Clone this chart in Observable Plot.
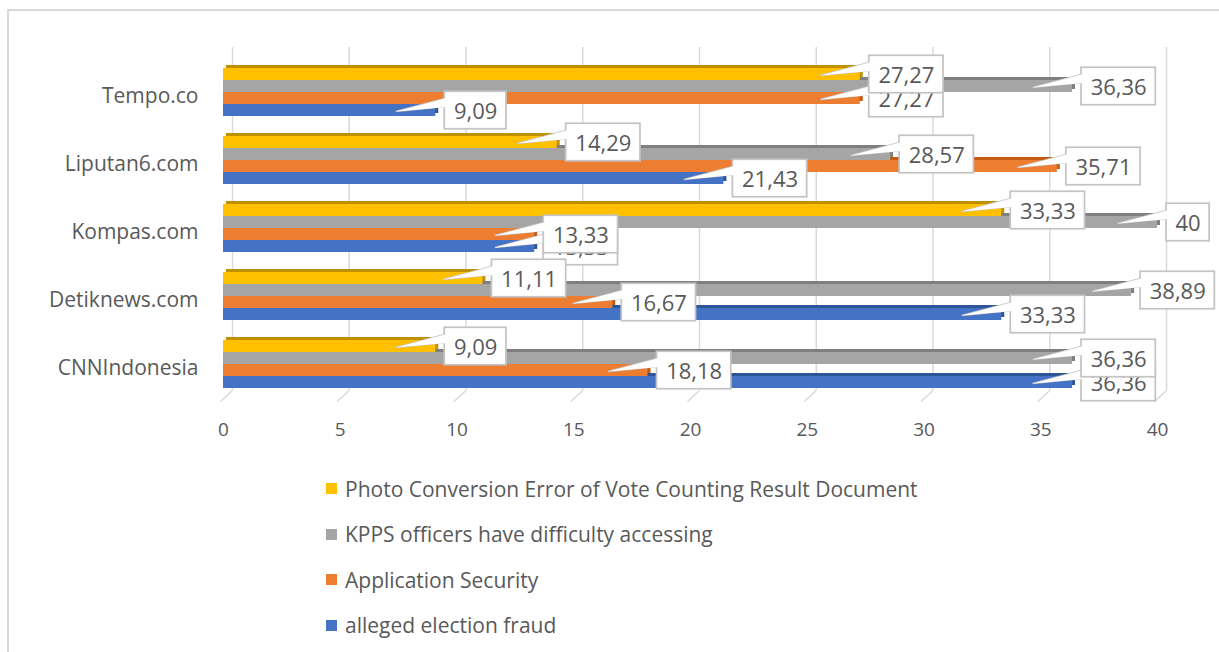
<!DOCTYPE html>
<html><head><meta charset="utf-8">
<script src="https://cdn.jsdelivr.net/npm/d3@7"></script>
<script src="https://cdn.jsdelivr.net/npm/@observablehq/plot@0.6"></script>
<style>
body{margin:0;background:#fff;font-family:"Open Sans",sans-serif;}
#wrap{position:relative;width:1219px;height:652px;overflow:hidden;}
#frame{position:absolute;left:7px;top:9px;width:1300px;height:700px;border:2px solid #d9d9d9;box-sizing:border-box}
#grid,#chart{position:absolute;left:0;top:0}
#legend{position:absolute;left:326px;top:466px;color:#595959;font-size:21px}
.item{height:45.5px;display:flex;align-items:center;white-space:nowrap}
.sw{width:11px;height:11px;margin-right:8px;flex:none}
</style></head>
<body><div id="wrap"><div id="frame"></div><div id="grid"></div><div id="chart"></div><div id="legend"></div></div>
<script>
// ---- data ----
const categories = ["Tempo.co", "Liputan6.com", "Kompas.com", "Detiknews.com", "CNNIndonesia"];
const seriesNames = ["alleged election fraud", "Application Security", "KPPS officers have difficulty accessing", "Photo Conversion Error of Vote Counting Result Document"];
const fraud    = [9.09, 21.43, 13.33, 33.33, 36.36];
const security = [27.27, 35.71, 13.33, 16.67, 18.18];
const kpps     = [36.36, 28.57, 40, 38.89, 36.36];
const photo    = [27.27, 14.29, 33.33, 11.11, 9.09];
const colors = ["#4472C4", "#ED7D31", "#A5A5A5", "#FFC000"];
const shades = ["#2F5597", "#C55A11", "#7F7F7F", "#BF9000"];
const xTicks = [0, 5, 10, 15, 20, 25, 30, 35, 40];

const values = [fraud, security, kpps, photo];
const rows = [];
seriesNames.forEach((s, j) => categories.forEach((c, i) => rows.push({
  category: c, series: s, value: values[j][i], color: colors[j], shade: shades[j],
  label: String(values[j][i]).replace(".", ",")
})));

const labelFont = 22;
const textW = t => [...t].reduce((a, ch) => a + (ch === "," ? 0.27 : 0.572) * labelFont, 0);

// custom symbols (pixel shapes drawn at data points)
const wedge = {draw(ctx) { ctx.moveTo(-40, 1); ctx.lineTo(9, -12); ctx.lineTo(9, -4); ctx.closePath(); }};
const wedgeFill = {draw(ctx) { ctx.moveTo(-40, 1); ctx.lineTo(11, -12.5); ctx.lineTo(11, -3.5); ctx.closePath(); }};
const slant = {draw(ctx) { ctx.moveTo(-3, 11); ctx.lineTo(9, 0); }};

const W = 1219, H = 460, ML = 223, MR = 62, MT = 47, MB = 70;
const baseStyle = {fontFamily: "Open Sans", fontSize: "19px", color: "#595959", background: "transparent"};

// back wall grid (separate layer behind the bars)
const grid = Plot.plot({
  width: W, height: H, marginLeft: ML, marginRight: MR, marginTop: MT, marginBottom: MB,
  style: baseStyle,
  x: {domain: [0, 40], axis: null},
  marks: [
    Plot.ruleX(xTicks, {x: d => d, dx: 9, stroke: "#d9d9d9", strokeWidth: 1.5}),
    Plot.dot(xTicks, {x: d => d, frameAnchor: "bottom", symbol: slant, stroke: "#d9d9d9", strokeWidth: 1.5, fill: "none"})
  ]
});
document.getElementById("grid").appendChild(grid);

const labelMarks = [];
for (const d of rows) {
  const w = textW(d.label) + 18;
  const common = {fy: "category", y: "series", x: "value"};
  labelMarks.push(
    Plot.dot([d], {...common, symbol: wedge, fill: "white", stroke: "#c4c4c4", strokeWidth: 1.5}),
    Plot.barX([d], {fy: "category", y: "series", x1: "value", x2: "value", insetLeft: 9, insetRight: -(9 + w),
      insetTop: -12.75, insetBottom: -12.75, fill: "white", stroke: "#c4c4c4", strokeWidth: 1.75}),
    Plot.dot([d], {...common, symbol: wedgeFill, fill: "white", stroke: "none"}),
    Plot.text([d], {...common, text: "label", dx: 9 + w / 2, dy: 1, fill: "#595959", fontSize: labelFont})
  );
}

const chart = Plot.plot({
  width: W, height: H, marginLeft: ML, marginRight: MR, marginTop: MT, marginBottom: MB,
  style: baseStyle,
  x: {domain: [0, 40], ticks: xTicks, tickSize: 0, tickPadding: 34, label: null},
  y: {domain: [seriesNames[3], seriesNames[2], seriesNames[1], seriesNames[0]], paddingInner: 0, paddingOuter: 0, axis: null},
  fy: {domain: categories, paddingInner: 0.273, paddingOuter: 0.131, align: 0.94, axis: null, label: null},
  marks: [
    Plot.barX(rows, {fy: "category", y: "series", x: "value", fill: "shade", dx: 3, dy: -3}),
    Plot.barX(rows, {fy: "category", y: "series", x: "value", fill: "color"}),
    Plot.text(categories, {fy: d => d, text: d => d, frameAnchor: "left", dx: -25, dy: 4, textAnchor: "end", fontSize: 21, fill: "#595959"}),
    ...labelMarks
  ]
});
document.getElementById("chart").appendChild(chart);

const legend = document.getElementById("legend");
for (let j = seriesNames.length - 1; j >= 0; j--) {
  const it = document.createElement("div");
  it.className = "item";
  it.innerHTML = `<span class="sw" style="background:${colors[j]}"></span><span>${seriesNames[j]}</span>`;
  legend.appendChild(it);
}
</script>
</body></html>
